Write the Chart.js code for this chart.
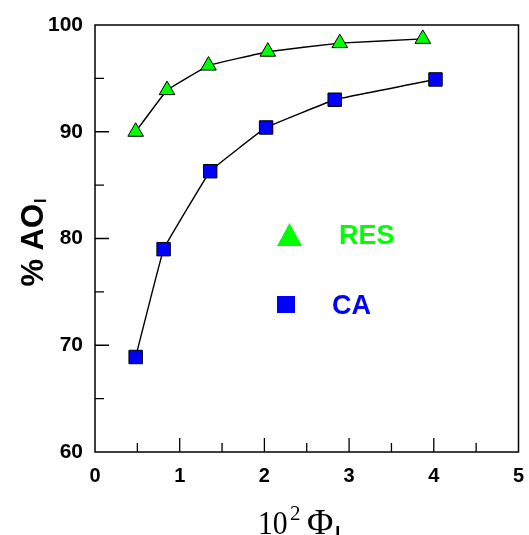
<!DOCTYPE html>
<html>
<head>
<meta charset="utf-8">
<script src="https://cdn.jsdelivr.net/npm/chart.js@4.4.0/dist/chart.umd.min.js"></script>
<style>
  html, body { margin: 0; padding: 0; background: #fff; }
  #wrap { width: 529px; height: 535px; }
</style>
</head>
<body>
<div id="wrap"><canvas id="aoChart" width="529" height="535"></canvas></div>
<script>
// values
const resX = [0.48, 0.85, 1.34, 2.04, 2.89, 3.87];
const resY = [90.0, 93.9, 96.2, 97.5, 98.3, 98.7];
const caX = [0.48, 0.81, 1.36, 2.02, 2.83, 4.02];
const caY = [68.9, 79.0, 86.3, 90.4, 93.0, 94.9];
const xTicks = [0, 1, 2, 3, 4, 5];
const yTicks = [60, 70, 80, 90, 100];

const GREEN = '#00ff00';
const BLUE = '#0000ff';
const SANS = '"Liberation Sans", Arial, sans-serif';
const SERIF = '"Liberation Serif", "Times New Roman", serif';

function toPoints(xs, ys) {
    return xs.map((x, i) => ({ x: x, y: ys[i] }));
}

// frame, inward ticks, axis titles and the in-plot legend
const decorPlugin = {
    id: 'decor',
    afterDraw(chart) {
        const ctx = chart.ctx;
        const a = chart.chartArea;
        const xs = chart.scales.x;
        const ys = chart.scales.y;
        ctx.save();
        ctx.strokeStyle = '#000';
        ctx.lineWidth = 1.5;
        ctx.strokeRect(a.left, a.top, a.right - a.left, a.bottom - a.top);

        ctx.lineWidth = 1.3;
        ctx.beginPath();
        for (let v = 0.5; v < 5; v += 0.5) {
            const px = xs.getPixelForValue(v);
            const len = Number.isInteger(v) ? 14 : 9;
            ctx.moveTo(px, a.bottom);
            ctx.lineTo(px, a.bottom - len);
        }
        for (let v = 65; v < 100; v += 5) {
            const py = ys.getPixelForValue(v);
            const len = v % 10 === 0 ? 14 : 9;
            ctx.moveTo(a.left, py);
            ctx.lineTo(a.left + len, py);
        }
        ctx.stroke();

        // y title: % AO_I
        ctx.save();
        ctx.translate(43, 243);
        ctx.rotate(-Math.PI / 2);
        ctx.fillStyle = '#000';
        ctx.textBaseline = 'alphabetic';
        ctx.textAlign = 'left';
        ctx.font = 'bold 31px ' + SANS;
        const main = '% AO';
        const wMain = ctx.measureText(main).width;
        ctx.font = 'bold 16px ' + SANS;
        const wSub = ctx.measureText('I').width;
        const start = -(wMain + wSub) / 2;
        ctx.font = 'bold 31px ' + SANS;
        ctx.fillText(main, start, 0);
        ctx.font = 'bold 16px ' + SANS;
        ctx.fillText('I', start + wMain + 1, 3);
        ctx.restore();

        // x title: 10^2 Phi_I
        ctx.save();
        ctx.fillStyle = '#000';
        ctx.textBaseline = 'alphabetic';
        ctx.textAlign = 'left';
        ctx.font = '33px ' + SERIF;
        ctx.save();
        ctx.translate(258, 534);
        ctx.scale(0.9, 1);
        ctx.fillText('10', 0, 0);
        ctx.restore();
        ctx.font = '21px ' + SERIF;
        ctx.fillText('2', 290, 520);
        ctx.font = '36px ' + SERIF;
        ctx.fillText('\u03A6', 307, 534);
        const wPhi = ctx.measureText('\u03A6').width;
        ctx.font = 'bold 18px ' + SANS;
        ctx.fillText('I', 307 + wPhi + 2, 539);
        ctx.restore();

        // legend
        ctx.fillStyle = GREEN;
        ctx.beginPath();
        ctx.moveTo(289.5, 223);
        ctx.lineTo(302, 246);
        ctx.lineTo(277, 246);
        ctx.closePath();
        ctx.fill();
        ctx.font = 'bold 27px ' + SANS;
        ctx.textBaseline = 'middle';
        ctx.textAlign = 'left';
        ctx.fillText('RES', 339, 237);
        ctx.fillStyle = BLUE;
        ctx.fillRect(277, 296, 18, 17);
        ctx.fillText('CA', 332, 307);
        ctx.restore();
    }
};

const ctx = document.getElementById('aoChart').getContext('2d');
new Chart(ctx, {
    type: 'scatter',
    data: {
        datasets: [
            {
                label: 'RES',
                data: toPoints(resX, resY),
                showLine: true,
                tension: 0.05,
                borderColor: '#000',
                borderWidth: 1.4,
                pointStyle: 'triangle',
                pointRadius: 9,
                pointBackgroundColor: GREEN,
                pointBorderColor: '#000',
                pointBorderWidth: 1
            },
            {
                label: 'CA',
                data: toPoints(caX, caY),
                showLine: true,
                tension: 0.05,
                borderColor: '#000',
                borderWidth: 1.4,
                pointStyle: 'rect',
                pointRadius: 9.5,
                pointBackgroundColor: BLUE,
                pointBorderColor: '#000',
                pointBorderWidth: 1
            }
        ]
    },
    options: {
        responsive: false,
        animation: false,
        layout: { padding: { top: 25, right: 8, left: 0, bottom: 0 } },
        plugins: {
            legend: { display: false },
            tooltip: { enabled: false }
        },
        scales: {
            x: {
                type: 'linear',
                min: 0,
                max: 5,
                afterFit: s => { s.height = 83; s.paddingRight = 0; s.paddingLeft = 0; },
                afterBuildTicks: s => { s.ticks = xTicks.map(v => ({ value: v })); },
                grid: { display: false, drawTicks: false },
                border: { display: false },
                ticks: {
                    padding: 12,
                    color: '#000',
                    font: { family: SANS, size: 20, weight: 'bold' }
                }
            },
            y: {
                type: 'linear',
                min: 60,
                max: 100,
                afterFit: s => { s.width = 95; s.paddingTop = 0; s.paddingBottom = 0; },
                afterBuildTicks: s => { s.ticks = yTicks.map(v => ({ value: v })); },
                grid: { display: false, drawTicks: false },
                border: { display: false },
                ticks: {
                    padding: 12,
                    color: '#000',
                    font: { family: SANS, size: 21, weight: 'bold' }
                }
            }
        }
    },
    plugins: [decorPlugin]
});
</script>
</body>
</html>
